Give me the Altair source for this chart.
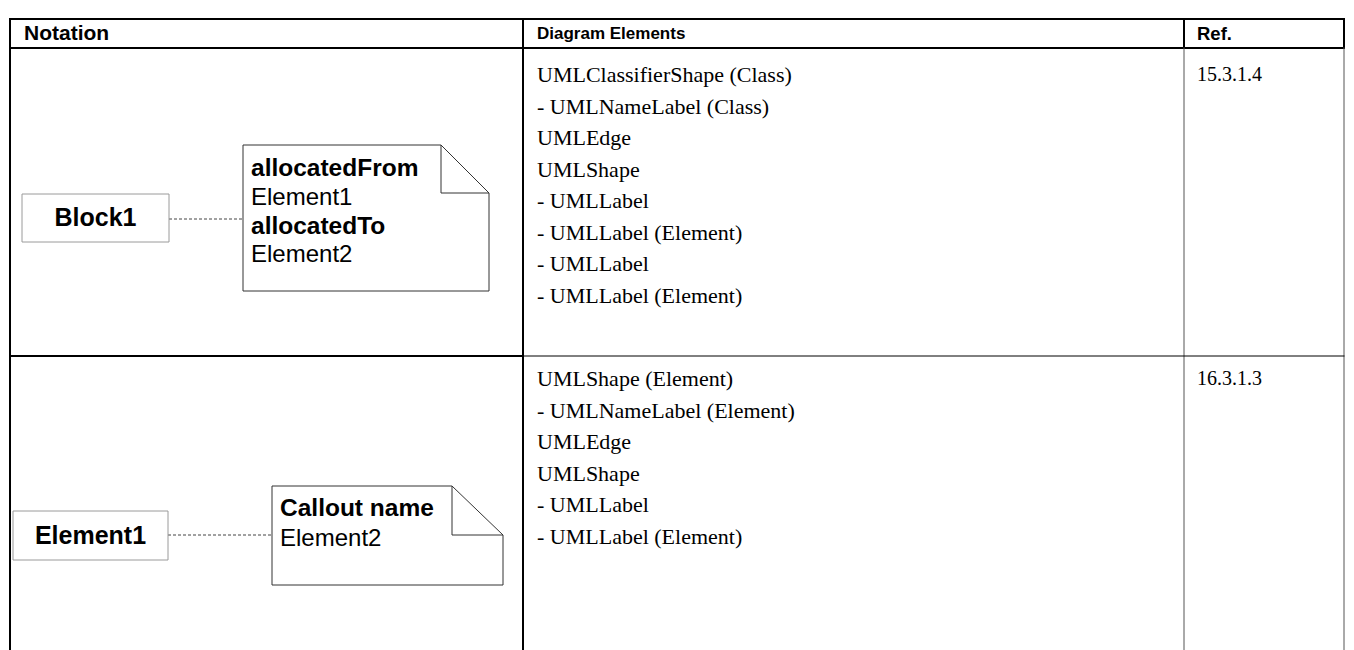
import altair as alt
import pandas as pd

# ---------------- content ----------------
header_labels = ["Notation", "Diagram Elements", "Ref."]
row1_elements = [
    "UMLClassifierShape (Class)", "- UMLNameLabel (Class)", "UMLEdge", "UMLShape",
    "- UMLLabel", "- UMLLabel (Element)", "- UMLLabel", "- UMLLabel (Element)",
]
row2_elements = [
    "UMLShape (Element)", "- UMLNameLabel (Element)", "UMLEdge", "UMLShape",
    "- UMLLabel", "- UMLLabel (Element)",
]
refs = ["15.3.1.4", "16.3.1.3"]
block_names = ["Block1", "Element1"]
note1_text = ["allocatedFrom", "Element1", "allocatedTo", "Element2"]
note1_bold = [True, False, True, False]
note2_text = ["Callout name", "Element2"]
note2_bold = [True, False]

# ---------------- layout (page pixels) ----------------
col_x = [10, 523, 1184, 1344]          # left border, column separators, right border
row_y = [19, 48, 356, 650]             # top, header separator, row separator, bottom
header_text_x = [24, 537, 1197]
header_text_y = 34
row_text_y0 = [75, 379]
line_gap = 31.5

blocks = [(22, 194, 169, 242), (13, 511, 168, 560)]          # x, y, x2, y2
notes = [(243, 145, 441, 193, 489, 291), (272, 486, 452, 535, 503, 585)]  # l, t, foldx, foldy, r, b
note_text_x = [251, 280]
note1_y = [169, 198, 227, 255]
note2_y = [509, 539]

W, H = 1338, 642
xs = alt.Scale(domain=[8, 8 + W], nice=False, zero=False)
ys = alt.Scale(domain=[8, 8 + H], nice=False, zero=False, reverse=True)

# ---------------- table grid ----------------
L, C1, C2, R = col_x
T, HS, S, B = row_y
grid = pd.DataFrame([
    dict(x=L, y=T, x2=R, y2=T, w=2, c="black"),
    dict(x=L, y=HS, x2=R, y2=HS, w=2, c="black"),
    dict(x=L, y=T, x2=L, y2=B, w=2, c="black"),
    dict(x=C1, y=T, x2=C1, y2=B, w=2, c="black"),
    dict(x=C2, y=T, x2=C2, y2=HS, w=2, c="black"),
    dict(x=R, y=T, x2=R, y2=HS, w=2, c="black"),
    dict(x=C2, y=HS, x2=C2, y2=B, w=1, c="#555555"),
    dict(x=R, y=HS, x2=R, y2=B, w=1, c="#555555"),
    dict(x=L, y=S, x2=C1, y2=S, w=2, c="black"),
    dict(x=C1, y=S, x2=R, y2=S, w=1, c="black"),
])

def rule_layer(df, **mark):
    return alt.Chart(df).mark_rule(**mark).encode(
        x=alt.X("x:Q", scale=xs, axis=None),
        x2="x2:Q",
        y=alt.Y("y:Q", scale=ys, axis=None),
        y2="y2:Q",
        strokeWidth=alt.StrokeWidth("w:Q", scale=None, legend=None),
        color=alt.Color("c:N", scale=None, legend=None),
    )

grid_layer = rule_layer(grid, strokeCap="square")

# ---------------- block boxes ----------------
box_df = pd.DataFrame([dict(x=b[0], y=b[1], x2=b[2], y2=b[3]) for b in blocks])
box_layer = alt.Chart(box_df).mark_rect(fill="white", stroke="#9a9a9a", strokeWidth=1).encode(
    x=alt.X("x:Q", scale=xs, axis=None), x2="x2:Q",
    y=alt.Y("y:Q", scale=ys, axis=None), y2="y2:Q",
)

# ---------------- notes (dog-eared) ----------------
note_rows = []
for (l, t, fx, fy, r, b) in notes:
    for seg in [(l, t, fx, t), (fx, t, r, fy), (r, fy, r, b), (r, b, l, b), (l, b, l, t),
                (fx, t, fx, fy), (fx, fy, r, fy)]:
        note_rows.append(dict(x=seg[0], y=seg[1], x2=seg[2], y2=seg[3], w=1, c="#333333"))
note_layer = rule_layer(pd.DataFrame(note_rows))

# ---------------- dashed connectors ----------------
conn = pd.DataFrame([
    dict(x=blocks[0][2], y=219, x2=notes[0][0], y2=219, w=1, c="#444444"),
    dict(x=blocks[1][2], y=535, x2=notes[1][0], y2=535, w=1, c="#444444"),
])
conn_layer = rule_layer(conn, strokeDash=[3, 2])

# ---------------- texts ----------------
def text_layer(df, **mark):
    return alt.Chart(df).mark_text(baseline="middle", **mark).encode(
        x=alt.X("x:Q", scale=xs, axis=None),
        y=alt.Y("y:Q", scale=ys, axis=None),
        text="t:N",
    )

hdr1 = text_layer(pd.DataFrame(dict(x=[header_text_x[0]], y=[header_text_y], t=[header_labels[0]])),
                  align="left", font="Liberation Sans", fontWeight="bold", fontSize=21, color="black")
hdr2 = text_layer(pd.DataFrame(dict(x=[header_text_x[1]], y=[header_text_y], t=[header_labels[1]])),
                  align="left", font="Liberation Sans", fontWeight="bold", fontSize=17, color="black")
hdr3 = text_layer(pd.DataFrame(dict(x=[header_text_x[2]], y=[header_text_y], t=[header_labels[2]])),
                  align="left", font="Liberation Sans", fontWeight="bold", fontSize=18.5, color="black")

body_rows = []
for i, t in enumerate(row1_elements):
    body_rows.append(dict(x=header_text_x[1], y=row_text_y0[0] + i * line_gap, t=t))
for i, t in enumerate(row2_elements):
    body_rows.append(dict(x=header_text_x[1], y=row_text_y0[1] + i * line_gap, t=t))
body_layer = text_layer(pd.DataFrame(body_rows), align="left", font="Liberation Serif", fontSize=22, color="black")

ref_df = pd.DataFrame(dict(x=[header_text_x[2]] * len(refs), y=row_text_y0, t=refs))
ref_layer = text_layer(ref_df, align="left", font="Liberation Serif", fontSize=20, color="black")

block_txt = pd.DataFrame(dict(
    x=[(b[0] + b[2]) / 2 for b in blocks],
    y=[(b[1] + b[3]) / 2 for b in blocks],
    t=block_names,
))
block_txt_layer = text_layer(block_txt, align="center", font="Liberation Sans", fontWeight="bold", fontSize=25, color="black")

nb, nr = [], []
for t, bold, y in zip(note1_text, note1_bold, note1_y):
    (nb if bold else nr).append(dict(x=note_text_x[0], y=y, t=t))
for t, bold, y in zip(note2_text, note2_bold, note2_y):
    (nb if bold else nr).append(dict(x=note_text_x[1], y=y, t=t))
note_bold_layer = text_layer(pd.DataFrame(nb), align="left", font="Liberation Sans", fontWeight="bold", fontSize=24.5, color="black")
note_reg_layer = text_layer(pd.DataFrame(nr), align="left", font="Liberation Sans", fontSize=24, color="black")

chart = alt.layer(
    grid_layer, conn_layer, box_layer, note_layer,
    hdr1, hdr2, hdr3, body_layer, ref_layer, block_txt_layer, note_bold_layer, note_reg_layer,
).properties(
    width=W, height=H, autosize=alt.AutoSizeParams(type="none"), padding=0,
).configure_view(stroke=None)

chart.save("out.html", embed_options={"renderer": "svg", "actions": False})
